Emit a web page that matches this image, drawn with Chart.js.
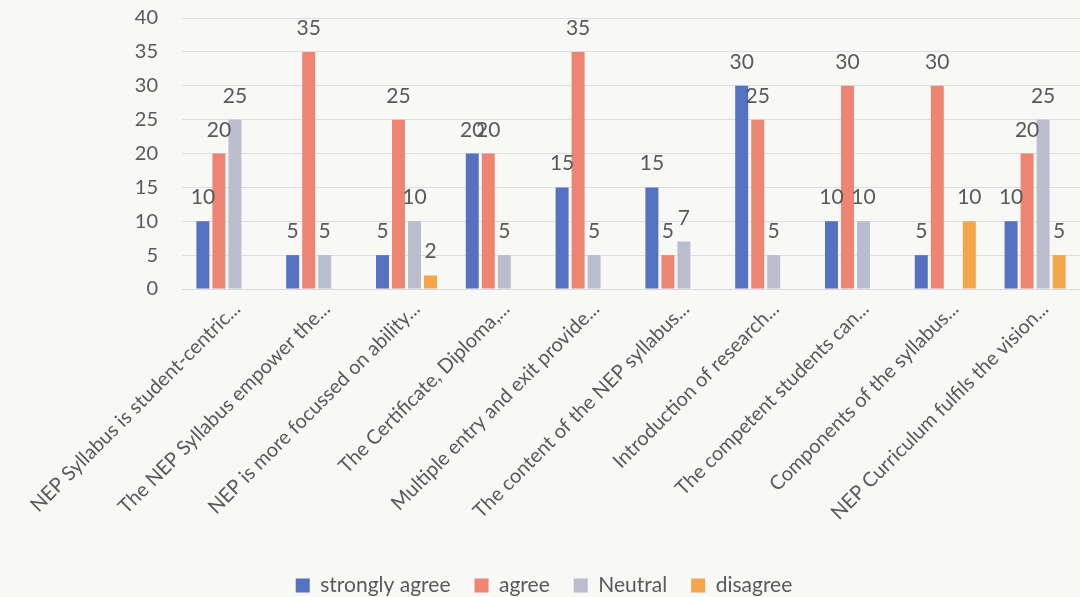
<!DOCTYPE html>
<html>
<head>
<meta charset="utf-8">
<script src="https://cdn.jsdelivr.net/npm/chart.js@4.4.1/dist/chart.umd.min.js"></script>
<style>
  html, body { margin: 0; padding: 0; background: #f8f8f7; overflow: hidden; }
  #wrap { width: 1080px; height: 597px; }
</style>
</head>
<body>
<div id="wrap"><canvas id="chart"></canvas></div>
<script>
// Survey responses per statement
const categories = [
  'NEP Syllabus is student-centric...',
  'The NEP Syllabus empower the...',
  'NEP is more focussed on ability...',
  'The Certificate, Diploma,...',
  'Multiple entry and exit provide...',
  'The content of the NEP syllabus...',
  'Introduction of research...',
  'The competent students can...',
  'Components of the syllabus...',
  'NEP Curriculum fulfils the vision...'
];
const stronglyAgree = [10, 5, 5, 20, 15, 15, 30, 10, 5, 10];
const agree         = [20, 35, 25, 20, 35, 5, 25, 30, 30, 20];
const neutral       = [25, 5, 10, 5, 5, 7, 5, 10, null, 25];
const disagree      = [null, null, 2, null, null, null, null, null, 10, 5];
const yTicks = [0, 5, 10, 15, 20, 25, 30, 35, 40];

const textColor = '#595959';
const fontFamily = 'Lato, "Open Sans", sans-serif';

// draw the value above each bar (no datalabels plugin available)
const valueLabels = {
  id: 'valueLabels',
  afterDatasetsDraw(chart) {
    const ctx = chart.ctx;
    ctx.save();
    ctx.font = '21px ' + fontFamily;
    ctx.fillStyle = textColor;
    ctx.textAlign = 'center';
    ctx.textBaseline = 'alphabetic';
    chart.data.datasets.forEach((ds, i) => {
      const meta = chart.getDatasetMeta(i);
      meta.data.forEach((bar, j) => {
        const v = ds.data[j];
        if (v == null) return;
        ctx.fillText(String(v), bar.x, bar.y - 17);
      });
    });
    ctx.restore();
  }
};

// keep wide item spacing but push the legend row down near the bottom edge
const legendLower = {
  id: 'legendLower',
  beforeUpdate(chart) {
    const lg = chart.legend;
    if (!lg || lg._lowered) return;
    const fit = lg.fit;
    lg.fit = function () { fit.call(this); this.height -= 9; };
    lg._lowered = true;
  }
};

new Chart(document.getElementById('chart'), {
  type: 'bar',
  data: {
    labels: categories,
    datasets: [
      { label: 'strongly agree', data: stronglyAgree, backgroundColor: '#5571c1' },
      { label: 'agree', data: agree, backgroundColor: '#ee8572' },
      { label: 'Neutral', data: neutral, backgroundColor: '#b9bdcd' },
      { label: 'disagree', data: disagree, backgroundColor: '#f5a64b' }
    ]
  },
  options: {
    responsive: true,
    maintainAspectRatio: false,
    animation: false,
    layout: { padding: { top: 18, right: -8, left: 0, bottom: 0 } },
    datasets: { bar: { categoryPercentage: 0.713, barPercentage: 0.81 } },
    plugins: {
      legend: {
        position: 'bottom',
        labels: {
          color: textColor,
          font: { family: fontFamily, size: 21 },
          boxWidth: 14,
          boxHeight: 14,
          padding: 24
        }
      },
      tooltip: { enabled: false }
    },
    scales: {
      x: {
        grid: { display: false },
        border: { color: '#d9d9d9' },
        ticks: {
          color: textColor,
          font: { family: fontFamily, size: 20 },
          minRotation: 45,
          maxRotation: 45,
          padding: 0,
          labelOffset: 10
        },
        afterFit(scale) { scale.height = 262; }
      },
      y: {
        min: 0,
        max: 40,
        afterBuildTicks(scale) { scale.ticks = yTicks.map(v => ({ value: v })); },
        grid: { color: '#dedede', drawTicks: false },
        border: { display: false },
        ticks: {
          color: textColor,
          font: { family: fontFamily, size: 20 },
          padding: 24
        },
        afterFit(scale) {
          scale.width = 182;
          scale.paddingTop = 0;
          scale.paddingBottom = 0;
        }
      }
    }
  },
  plugins: [valueLabels, legendLower]
});
</script>
</body>
</html>
